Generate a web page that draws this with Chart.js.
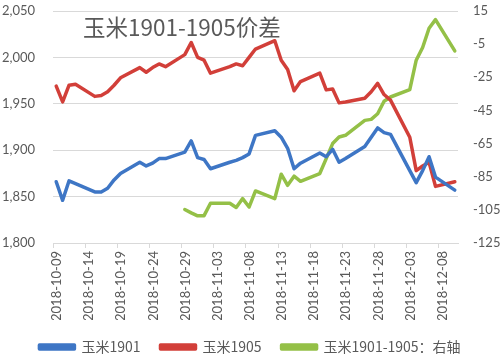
<!DOCTYPE html>
<html>
<head>
<meta charset="utf-8">
<script src="https://cdn.jsdelivr.net/npm/chart.js@4/dist/chart.umd.min.js"></script>
<style>
html,body{margin:0;padding:0;background:#fff;}
#wrap{width:500px;height:364px;}
</style>
</head>
<body>
<div id="wrap"><canvas id="c" width="500" height="364"></canvas></div>
<script>
// ---- data ----
const dates = [
  '2018-10-09','2018-10-10','2018-10-11','2018-10-12',
  '2018-10-15','2018-10-16','2018-10-17','2018-10-18','2018-10-19',
  '2018-10-22','2018-10-23','2018-10-24','2018-10-25','2018-10-26',
  '2018-10-29','2018-10-30','2018-10-31','2018-11-01','2018-11-02',
  '2018-11-05','2018-11-06','2018-11-07','2018-11-08','2018-11-09',
  '2018-11-12','2018-11-13','2018-11-14','2018-11-15','2018-11-16',
  '2018-11-19','2018-11-20','2018-11-21','2018-11-22','2018-11-23',
  '2018-11-26','2018-11-27','2018-11-28','2018-11-29','2018-11-30',
  '2018-12-03','2018-12-04','2018-12-05','2018-12-06','2018-12-07',
  '2018-12-10'
];
const corn1901 = [
  1866,1846,1867,1864,
  1855,1855,1859,1868,1875,
  1887,1883,1886,1891,1891,
  1898,1910,1892,1890,1880,
  1887,1889,1892,1896,1916,
  1921,1914,1902,1880,1886,
  1897,1893,1901,1887,1891,
  1904,1914,1924,1919,1917,
  1878,1865,1878,1893,1871,
  1857
];
const corn1905 = [
  1969,1952,1970,1971,
  1958,1959,1963,1970,1978,
  1989,1984,1989,1993,1990,
  2003,2016,2000,1997,1983,
  1990,1993,1991,2000,2009,
  2018,1997,1987,1964,1974,
  1983,1965,1966,1951,1952,
  1956,1963,1972,1960,1954,
  1914,1878,1883,1887,1861,
  1866
];
const spread = [
  null,null,null,null,
  null,null,null,null,null,
  null,null,null,null,null,
  -104.8,-106.8,-108.6,-108.5,-101,
  -101,-103.6,-98.2,-103.3,-93.6,
  -98.2,-83.5,-90.2,-84.7,-87.8,
  -83.1,-74.1,-65,-61,-60,
  -51,-50.4,-47,-39.5,-36.9,
  -32.4,-14.7,-7,4.6,9.8,
  -9.1
];
const xTickLabels = ['2018-10-09','2018-10-14','2018-10-19','2018-10-24','2018-10-29','2018-11-03','2018-11-08','2018-11-13','2018-11-18','2018-11-23','2018-11-28','2018-12-03','2018-12-08'];
const leftTicks = [1800,1850,1900,1950,2000,2050];
const rightTicks = [-125,-105,-85,-65,-45,-25,-5,15];
const seriesNames = ['玉米1901','玉米1905','玉米1901-1905：右轴'];
const titleText = '玉米1901-1905价差';
const axisStart = '2018-10-09';
const axisEnd = '2018-12-10';

// ---- helpers ----
function dayNum(s){ const p=s.split('-').map(Number); return Date.UTC(p[0],p[1]-1,p[2])/86400000; }
const d0 = dayNum(axisStart);
const dayOff = s => dayNum(s) - d0;
const xTickVals = xTickLabels.map(s => dayOff(s) - 0.5);
const toXY = arr => dates.map((d,i)=>({x: dayOff(d), y: arr[i]}));

const GRAY = '#595959';
const GRID = '#D9D9D9';
const NUMFONT = "Lato, 'Noto Sans CJK SC', sans-serif";
const CJKFONT = "'Noto Sans CJK SC', sans-serif";

const titlePlugin = {
  id: 'inTitle',
  beforeDatasetsDraw(chart){
    const ctx = chart.ctx;
    ctx.save();
    ctx.font = "22.5px " + CJKFONT;
    ctx.fillStyle = GRAY;
    ctx.textBaseline = 'middle';
    ctx.textAlign = 'left';
    ctx.fillText(titleText, 83, 27);
    ctx.restore();
  }
};

new Chart(document.getElementById('c'), {
  type: 'line',
  data: {
    datasets: [
      {label: seriesNames[0], data: toXY(corn1901), yAxisID: 'y', borderColor: '#3E76C5', backgroundColor: '#3E76C5'},
      {label: seriesNames[1], data: toXY(corn1905), yAxisID: 'y', borderColor: '#D23F39', backgroundColor: '#D23F39'},
      {label: seriesNames[2], data: toXY(spread), yAxisID: 'y2', borderColor: '#94C047', backgroundColor: '#94C047'}
    ]
  },
  options: {
    responsive: false,
    animation: false,
    elements: {
      line: {borderWidth: 3.5, tension: 0, borderJoinStyle: 'round', borderCapStyle: 'round', fill: false},
      point: {radius: 0, hoverRadius: 0}
    },
    layout: {padding: {top: 11, left: 0, right: 0, bottom: 0}},
    plugins: {
      legend: {
        position: 'bottom',
        maxHeight: 44,
        labels: {
          color: GRAY,
          font: {size: 14, family: CJKFONT},
          boxWidth: 35,
          boxHeight: 4,
          padding: 20
        }
      },
      tooltip: {enabled: false}
    },
    scales: {
      x: {
        type: 'linear',
        min: dayOff(axisStart) - 0.5,
        max: dayOff(axisEnd) + 0.5,
        afterBuildTicks(scale){ scale.ticks = xTickVals.map(v=>({value:v})); },
        afterFit(scale){ scale.height = 77; },
        grid: {drawOnChartArea: false, drawTicks: true, tickLength: 5, color: GRID},
        border: {display: true, color: GRID},
        ticks: {
          color: GRAY,
          font: {size: 13, family: NUMFONT},
          minRotation: 90, maxRotation: 90,
          autoSkip: false,
          padding: 3,
          labelOffset: 4,
          callback(v, i){ return xTickLabels[i]; }
        }
      },
      y: {
        position: 'left',
        min: 1800, max: 2050,
        afterBuildTicks(scale){ scale.ticks = leftTicks.map(v=>({value:v})); },
        afterFit(scale){ scale.width = 53; },
        grid: {color: GRID, drawTicks: true, tickLength: 18, tickColor: 'rgba(0,0,0,0)'},
        border: {display: false},
        ticks: {
          color: GRAY,
          font: {size: 13, family: NUMFONT},
          padding: 0,
          callback(v){ return v.toLocaleString('en-US'); }
        }
      },
      y2: {
        position: 'right',
        min: -125, max: 15,
        afterBuildTicks(scale){ scale.ticks = rightTicks.map(v=>({value:v})); },
        afterFit(scale){ scale.width = 42; },
        grid: {drawOnChartArea: false, drawTicks: true, tickLength: 15, tickColor: 'rgba(0,0,0,0)'},
        border: {display: false},
        ticks: {
          color: GRAY,
          font: {size: 13, family: NUMFONT},
          padding: 0
        }
      }
    }
  },
  plugins: [titlePlugin]
});
</script>
</body>
</html>
